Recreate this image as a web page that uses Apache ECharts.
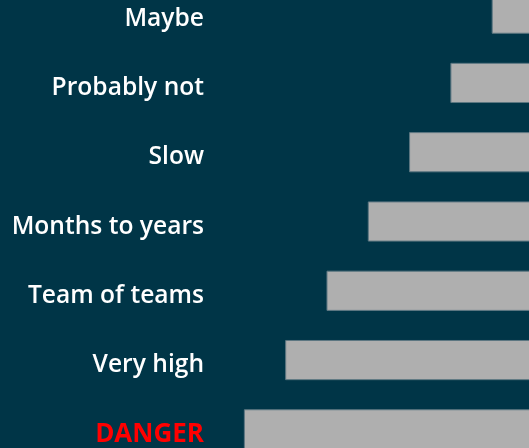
<!DOCTYPE html>
<html>
<head>
<meta charset="utf-8">
<script src="https://cdn.jsdelivr.net/npm/echarts@6/dist/echarts.min.js"></script>
<style>
  html, body { margin: 0; padding: 0; background: #003547; }
  #chart { width: 529px; height: 448px; }
</style>
</head>
<body>
<div id="chart"></div>
<script>
// categories from top to bottom
var categories = ['Maybe', 'Probably not', 'Slow', 'Months to years', 'Team of teams', 'Very high', 'DANGER'];
var values = [1, 2, 3, 4, 5, 6, 7];

var chart = echarts.init(document.getElementById('chart'));

var option = {
  backgroundColor: '#003547',
  animation: false,
  grid: {
    left: 210,
    right: -4,
    top: -21,
    bottom: -16,
    outerBoundsMode: 'none',
    containLabel: false
  },
  xAxis: {
    type: 'value',
    inverse: true,
    min: 0,
    max: 7.82,
    show: false
  },
  yAxis: {
    type: 'category',
    data: categories,
    inverse: true,
    position: 'left',
    axisLine: { show: false, onZero: false },
    axisTick: { show: false },
    axisLabel: {
      margin: 6,
      color: '#ffffff',
      fontFamily: 'Open Sans',
      fontWeight: 600,
      fontSize: 24.6,
      padding: [10, 0, 0, 0],
      formatter: function (v) {
        if (v === 'DANGER') return '{d|' + v + '}';
        return v;
      },
      rich: {
        d: {
          color: '#ff0000',
          fontFamily: 'Open Sans',
          fontWeight: 700,
          fontSize: 26
        }
      }
    }
  },
  series: [{
    type: 'bar',
    data: values,
    barCategoryGap: '42%',
    itemStyle: {
      color: '#afafaf',
      borderColor: '#5d7782',
      borderWidth: 1
    }
  }]
};

chart.setOption(option);
</script>
</body>
</html>
